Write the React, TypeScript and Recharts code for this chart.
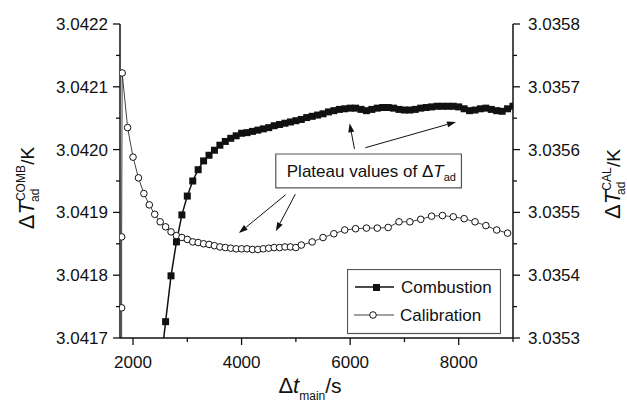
import React from "react";
import { ComposedChart, Line, XAxis, YAxis, Legend, ReferenceLine, ReferenceArea } from "recharts";

const FONT = "'Liberation Sans', Arial, sans-serif";
const INK = "#111";

// combustion run (left axis), every 100 s
const combTime = [
  2500, 2600, 2700, 2800, 2900, 3000, 3100, 3200, 3300, 3400, 3500, 3600, 3700, 3800, 3900,
  4000, 4100, 4200, 4300, 4400, 4500, 4600, 4700, 4800, 4900, 5000, 5100, 5200, 5300, 5400,
  5500, 5600, 5700, 5800, 5900, 6000, 6100, 6200, 6300, 6400, 6500, 6600, 6700, 6800, 6900,
  7000, 7100, 7200, 7300, 7400, 7500, 7600, 7700, 7800, 7900, 8000, 8100, 8200, 8300, 8400,
  8500, 8600, 8700, 8800, 8900, 9000,
];
const combValue = [
  3.04165, 3.041726, 3.041799, 3.041853, 3.041896, 3.041926, 3.04195, 3.041968, 3.041982, 3.041991,
  3.041999, 3.042007, 3.042013, 3.042018, 3.042022, 3.042026, 3.042027, 3.042029, 3.042031, 3.042033,
  3.042035, 3.042038, 3.04204, 3.042042, 3.042044, 3.042046, 3.042048, 3.042051, 3.042053, 3.042055,
  3.042057, 3.04206, 3.042062, 3.042064, 3.042065, 3.042066, 3.042066, 3.042064, 3.042062, 3.042064,
  3.042066, 3.042067, 3.042067, 3.042066, 3.042064, 3.042063, 3.042063, 3.042064, 3.042066, 3.042067,
  3.042068, 3.042069, 3.042069, 3.042069, 3.042069, 3.042068, 3.042065, 3.042062, 3.042063, 3.042065,
  3.042066, 3.042064, 3.042062, 3.042061, 3.042065, 3.042069,
];

// calibration run (right axis)
const calTime = [
  1790, 1790, 1790, 1800, 1900, 2000, 2100, 2200, 2300, 2400, 2500, 2600, 2700, 2800, 2900,
  3000, 3100, 3200, 3300, 3400, 3500, 3600, 3700, 3800, 3900, 4000, 4100, 4200, 4300, 4400,
  4500, 4600, 4700, 4800, 4900, 5000, 5100, 5300, 5500, 5700, 5900, 6100, 6300, 6500, 6700,
  6900, 7100, 7300, 7500, 7700, 7900, 8100, 8300, 8500, 8700, 8900,
];
const calValue = [
  3.0352, 3.035348, 3.035461, 3.035722, 3.035635, 3.035588, 3.035555, 3.03553, 3.035512, 3.035497,
  3.035485, 3.035477, 3.035469, 3.035463, 3.03546, 3.035457, 3.035453, 3.035452, 3.03545, 3.035449,
  3.035447, 3.035445, 3.035444, 3.035443, 3.035442, 3.035442, 3.035442, 3.035441, 3.035441, 3.035442,
  3.035443, 3.035444, 3.035444, 3.035445, 3.035445, 3.035444, 3.035448, 3.035453, 3.03546, 3.035466,
  3.035472, 3.035474, 3.035475, 3.035475, 3.035476, 3.035485, 3.035485, 3.035489, 3.035494, 3.035495,
  3.035493, 3.03549, 3.035485, 3.035479, 3.035472, 3.035467,
];

const xTicks = [2000, 3000, 4000, 5000, 6000, 7000, 8000, 9000];
const leftTicks = [3.0417, 3.04175, 3.0418, 3.04185, 3.0419, 3.04195, 3.042, 3.04205, 3.0421, 3.04215, 3.0422];
const rightTicks = [3.0353, 3.03535, 3.0354, 3.03545, 3.0355, 3.03555, 3.0356, 3.03565, 3.0357, 3.03575, 3.0358];
const seriesNames = ["Combustion", "Calibration"];

// annotation arrows, [from, to] in (time, left-axis value)
const arrows = [
  [[6080, 3.042001], [5990, 3.042042]],
  [[6280, 3.042003], [7950, 3.042044]],
  [[4810, 3.041928], [3950, 3.041867]],
  [[4990, 3.041929], [4630, 3.04187]],
];

const combData = combTime.map((t, i) => ({ t, v: combValue[i] }));
const calData = calTime.map((t, i) => ({ t, v: calValue[i] }));

const LeftTick = (p: any) => {
  const major = p.index % 2 === 0;
  return (
    <g>
      <line x1={p.x} x2={p.x - (major ? 7 : 4)} y1={p.y} y2={p.y} stroke={INK} strokeWidth={1.3} />
      {major && (
        <text x={p.x - 12} y={p.y + 6} textAnchor="end" fontSize={17} fontFamily={FONT} fill={INK}>
          {p.payload.value.toFixed(4)}
        </text>
      )}
    </g>
  );
};

const RightTick = (p: any) => {
  const major = p.index % 2 === 0;
  return (
    <g>
      <line x1={p.x} x2={p.x + (major ? 7 : 4)} y1={p.y} y2={p.y} stroke={INK} strokeWidth={1.3} />
      {major && (
        <text x={p.x + 15} y={p.y + 6} textAnchor="start" fontSize={17} fontFamily={FONT} fill={INK}>
          {p.payload.value.toFixed(4)}
        </text>
      )}
    </g>
  );
};

const BottomTick = (p: any) => {
  const major = p.index % 2 === 0;
  return (
    <g>
      <line x1={p.x} x2={p.x} y1={p.y} y2={p.y + (major ? 7 : 4)} stroke={INK} strokeWidth={1.3} />
      {major && (
        <text x={p.x} y={p.y + 30} textAnchor="middle" fontSize={17} fontFamily={FONT} fill={INK}>
          {p.payload.value}
        </text>
      )}
    </g>
  );
};

const YTitle = ({ cxPos, cyPos, sup }: { cxPos: number; cyPos: number; sup: string }) => {
  const supW = sup.length * 9.2;
  return (
    <text transform={`translate(${cxPos},${cyPos}) rotate(-90)`} textAnchor="middle" fontFamily={FONT} fill={INK}>
      <tspan fontSize={22}>Δ</tspan>
      <tspan fontSize={22} fontStyle="italic">T</tspan>
      <tspan fontSize={12} dy={-9}>{sup}</tspan>
      <tspan fontSize={12} dx={-supW} dy={14}>ad</tspan>
      <tspan fontSize={19} dx={supW - 13} dy={-5}>/K</tspan>
    </text>
  );
};

const XTitle = () => (
  <text x={310} y={393} textAnchor="middle" fontFamily={FONT} fill={INK}>
    <tspan fontSize={22}>Δ</tspan>
    <tspan fontSize={22} fontStyle="italic">t</tspan>
    <tspan fontSize={12} dy={7}>main</tspan>
    <tspan fontSize={21} dy={-7}>/s</tspan>
  </text>
);

const Arrow = (p: any) => {
  const { x1, y1, x2, y2 } = p;
  const a = Math.atan2(y2 - y1, x2 - x1);
  const bx = x2 - 9 * Math.cos(a);
  const by = y2 - 9 * Math.sin(a);
  const px = -Math.sin(a) * 3;
  const py = Math.cos(a) * 3;
  return (
    <g>
      <line x1={x1} y1={y1} x2={bx} y2={by} stroke={INK} strokeWidth={1} />
      <polygon points={`${x2},${y2} ${bx + px},${by + py} ${bx - px},${by - py}`} fill={INK} />
    </g>
  );
};

const BoxText = (p: any) => {
  const vb = p.viewBox || { x: 0, y: 0, height: 0 };
  return (
    <text x={vb.x + 11} y={vb.y + vb.height / 2 + 6} fontFamily={FONT} fill={INK}>
      <tspan fontSize={17}>Plateau values of Δ</tspan>
      <tspan fontSize={17} fontStyle="italic">T</tspan>
      <tspan fontSize={11} dy={4}>ad</tspan>
    </text>
  );
};

const LegendBox = () => (
  <svg width={154} height={66} style={{ display: "block" }}>
    <rect x={0.5} y={0.5} width={153} height={64} fill="#fff" stroke="#555" strokeWidth={1.2} />
    <line x1={8} x2={47} y1={18} y2={18} stroke={INK} strokeWidth={1.5} />
    <rect x={26} y={15} width={7} height={7} fill={INK} />
    <text x={54} y={24} fontSize={17} fontFamily={FONT} fill={INK}>{seriesNames[0]}</text>
    <line x1={7} x2={47} y1={46} y2={46} stroke={INK} strokeWidth={0.8} />
    <circle cx={26} cy={46} r={3.3} fill="#fff" stroke={INK} strokeWidth={1} />
    <text x={53} y={52} fontSize={17} fontFamily={FONT} fill={INK}>{seriesNames[1]}</text>
  </svg>
);

const SquareDot = (p: any) => {
  if (p.cx == null || p.cy == null) return <g key={p.index} />;
  return <rect key={p.index} x={p.cx - 3.5} y={p.cy - 3.5} width={7} height={7} fill={INK} />;
};

export default function App() {
  return (
    <div style={{ position: "absolute", left: 0, top: 0, background: "#fff" }}>
      <ComposedChart width={627} height={403} margin={{ top: 24, right: 0, bottom: 0, left: 0 }}>
        <XAxis
          dataKey="t"
          type="number"
          domain={[1760, 9000]}
          ticks={xTicks}
          allowDataOverflow
          height={65}
          tickSize={0}
          tickMargin={0}
          tickLine={false}
          tick={BottomTick}
          interval={0}
          axisLine={{ stroke: INK, strokeWidth: 1.5 }}
          label={<XTitle />}
        />
        <YAxis
          yAxisId="L"
          orientation="left"
          type="number"
          domain={[3.0417, 3.0422]}
          ticks={leftTicks}
          allowDataOverflow
          width={120}
          tickSize={0}
          tickMargin={0}
          tickLine={false}
          tick={LeftTick}
          interval={0}
          axisLine={{ stroke: INK, strokeWidth: 1.5 }}
          label={<YTitle cxPos={34} cyPos={188} sup="COMB" />}
        />
        <YAxis
          yAxisId="R"
          orientation="right"
          type="number"
          domain={[3.0353, 3.0358]}
          ticks={rightTicks}
          allowDataOverflow
          width={114}
          tickSize={0}
          tickMargin={0}
          tickLine={false}
          tick={RightTick}
          interval={0}
          axisLine={{ stroke: INK, strokeWidth: 1.5 }}
          label={<YTitle cxPos={620} cyPos={184} sup="CAL" />}
        />
        <ReferenceArea
          yAxisId="L"
          x1={4630}
          x2={8050}
          y1={3.041939}
          y2={3.041993}
          fill="#fff"
          fillOpacity={1}
          stroke="#555"
          strokeWidth={1.2}
          label={BoxText}
        />
        {arrows.map((a, i) => (
          <ReferenceLine
            key={i}
            yAxisId="L"
            segment={[{ x: a[0][0], y: a[0][1] }, { x: a[1][0], y: a[1][1] }]}
            shape={Arrow}
          />
        ))}
        <Line
          yAxisId="R"
          data={calData}
          dataKey="v"
          name={seriesNames[1]}
          stroke={INK}
          strokeWidth={0.8}
          dot={{ r: 3.3, fill: "#fff", stroke: INK, strokeWidth: 1 }}
          isAnimationActive={false}
        />
        <Line
          yAxisId="L"
          data={combData}
          dataKey="v"
          name={seriesNames[0]}
          stroke={INK}
          strokeWidth={1.5}
          dot={SquareDot}
          isAnimationActive={false}
        />
        <Legend
          layout="vertical"
          align="center"
          verticalAlign="middle"
          content={LegendBox}
          wrapperStyle={{ position: "absolute", left: 347, top: 269, width: 154, height: 66, margin: 0, padding: 0 }}
        />
      </ComposedChart>
    </div>
  );
}
